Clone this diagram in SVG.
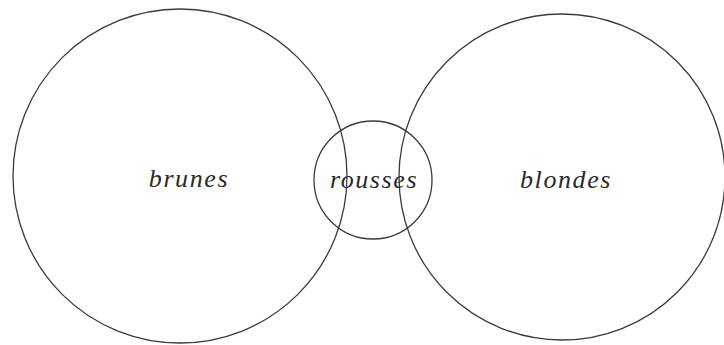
<svg xmlns="http://www.w3.org/2000/svg" width="724" height="345" viewBox="0 0 724 345">
<style>
.c{fill:none;stroke:#3a3a3a;stroke-width:1.3}
.t{font-family:"Liberation Serif",serif;font-style:italic;font-size:26px;fill:#2a2a2a;letter-spacing:1.6px;text-anchor:middle}
</style>
<rect width="724" height="345" fill="#fff"/>
<g id="brunes"><circle class="c" cx="180" cy="176" r="167"/><text class="t" x="189" y="187">brunes</text></g>
<g id="blondes"><circle class="c" cx="562" cy="177" r="163"/><text class="t" x="566" y="188">blondes</text></g>
<g id="rousses"><circle class="c" cx="373" cy="180" r="59"/><text class="t" x="374" y="188">rousses</text></g>
<g id="connectors"/>
</svg>
